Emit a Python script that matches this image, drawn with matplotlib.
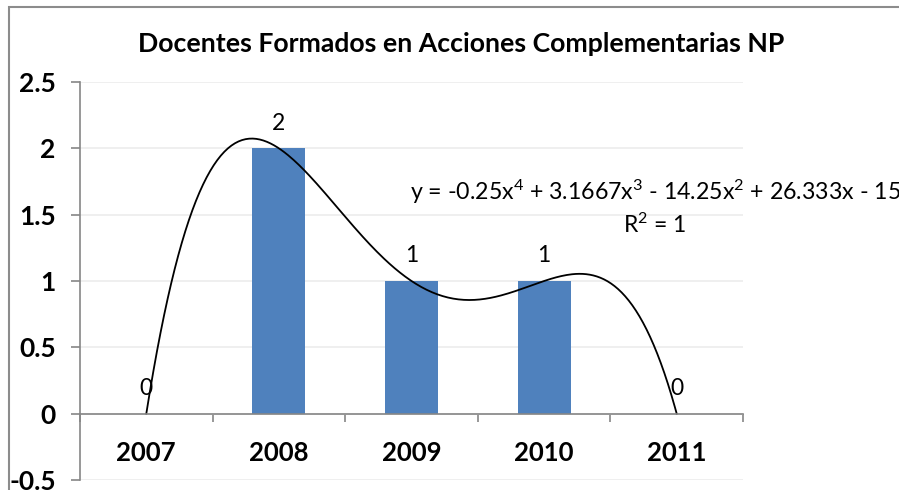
import numpy as np
import matplotlib
matplotlib.use("Agg")
import matplotlib.pyplot as plt
from matplotlib.patches import Rectangle

years = ["2007", "2008", "2009", "2010", "2011"]
docentes = [0, 2, 1, 1, 0]
y_ticks = [-0.5, 0, 0.5, 1, 1.5, 2, 2.5]
y_tick_labels = ["-0.5", "0", "0.5", "1", "1.5", "2", "2.5"]
title = "Docentes Formados en Acciones Complementarias NP"
eq_text = "y = -0.25x$^{4}$ + 3.1667x$^{3}$ - 14.25x$^{2}$ + 26.333x - 15"
r2_text = "R$^{2}$ = 1"

plt.rcParams['font.family'] = ['Lato', 'DejaVu Sans']
plt.rcParams['mathtext.fontset'] = 'custom'
plt.rcParams['mathtext.rm'] = 'Lato'
plt.rcParams['mathtext.it'] = 'Lato:italic'
plt.rcParams['mathtext.bf'] = 'Lato:bold'
plt.rcParams['mathtext.default'] = 'rm'

W, H = 899, 490
fig = plt.figure(figsize=(W / 100, H / 100), dpi=100)

def px(x, y):
    return x / W, 1 - y / H

# chart border (cut off at right and bottom)
fig.patches.append(Rectangle(px(9, 520), (920 - 9) / W, (520 - 7) / H,
                             transform=fig.transFigure, fill=False,
                             edgecolor="#8c8c8c", linewidth=1.5))

left, right, top, bottom = 80, 743, 82, 480
ax = fig.add_axes([left / W, 1 - bottom / H, (right - left) / W, (bottom - top) / H])

# spine position first: moving it resets the ticks
for s in ["top", "right"]:
    ax.spines[s].set_visible(False)
ax.spines["left"].set_color("#868686")
ax.spines["left"].set_linewidth(1.2)
ax.spines["bottom"].set_position(("data", 0))
ax.spines["bottom"].set_color("#868686")
ax.spines["bottom"].set_linewidth(1.2)
ax.spines["bottom"].set_zorder(5)

x = np.arange(1, len(years) + 1)
ax.bar(x, docentes, width=0.4, color="#4f81bd", zorder=2)

# data labels
for xi, v in zip(x, docentes):
    ax.annotate(str(v), (xi, v), xytext=(0, 13.5), textcoords="offset points",
                ha="center", va="baseline", fontsize=16.5, zorder=4)

# polynomial trendline (order 4)
coef = np.polyfit(x, docentes, 4)
xs = np.linspace(1, 5, 300)
ax.plot(xs, np.polyval(coef, xs), color="black", linewidth=1.3, zorder=3)

ax.set_xlim(0.5, 5.5)
ax.set_ylim(-0.5, 2.5)

ax.tick_params(axis="y", direction="out", length=6.5, width=1.2, color="#868686", pad=11)
ax.tick_params(axis="x", which="major", direction="out", length=6, width=1.2, color="#868686")
ax.tick_params(axis="x", which="minor", length=0, pad=19.5)

ax.set_yticks(y_ticks, labels=y_tick_labels, fontweight="bold", fontsize=19)
ax.set_xticks(np.arange(0.5, 6.0, 1.0), labels=[])
ax.set_xticks(x, labels=years, minor=True, fontweight="bold", fontsize=18.5)

ax.grid(axis="y", color="#ececec", linewidth=1.2, zorder=0)
ax.set_axisbelow(True)

fig.text(*px(461, 52), title, ha="center", va="baseline", fontsize=19.2, fontweight="bold")
fig.text(*px(410, 200), eq_text, ha="left", va="baseline", fontsize=16.7)
fig.text(*px(655, 233), r2_text, ha="center", va="baseline", fontsize=16.5)

fig.savefig("out.png", dpi=100)
